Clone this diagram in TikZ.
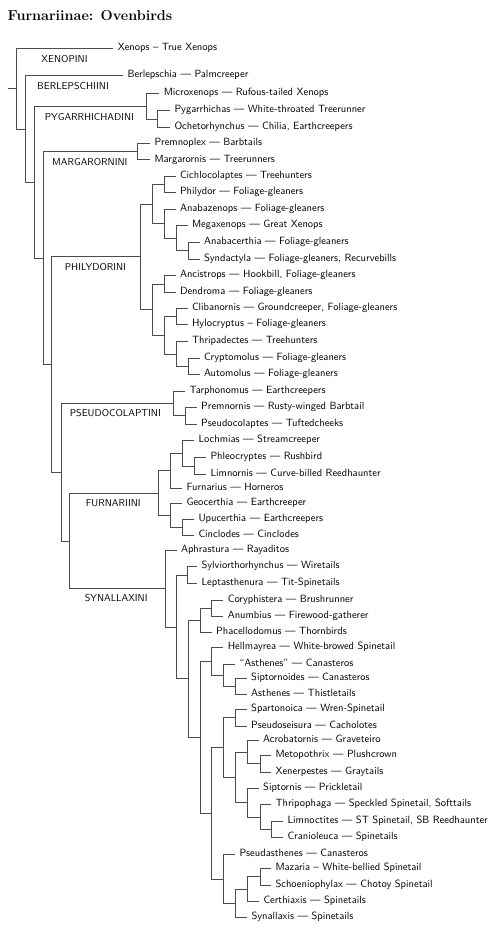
\documentclass[tikz,border=0pt]{standalone}
\begin{document}
\begin{tikzpicture}[x=1pt,y=-1pt,
  edge/.style={draw=black!70,line width=0.7pt},
  leaf/.style={anchor=west,inner xsep=4.3pt,inner ysep=0pt,text height=6.5pt,text depth=2pt,font=\sffamily\fontsize{10.5}{12}\selectfont},
  clade/.style={anchor=base west,inner sep=0pt,font=\sffamily\fontsize{10}{12}\selectfont},
  titlestyle/.style={anchor=base west,inner sep=0pt,font=\rmfamily\bfseries\Large}]
\useasboundingbox (0,0) rectangle (495,930);
\node[titlestyle] (title) at (7.5,20) {Furnariinae: Ovenbirds};
% internal nodes
\coordinate (rs) at (8,88.6);
\coordinate (root) at (16.5,88.6);
\coordinate (n2) at (25,128.9);
\coordinate (n3) at (34.3,182.1);
\coordinate (n4) at (43.3,258.0);
\coordinate (n5) at (51.7,364.5);
\coordinate (n6) at (61,472.1);
\coordinate (n7) at (69.7,540.9);
\coordinate (cPyg) at (146.7,106.2);
\coordinate (pyA) at (157.7,119);
\coordinate (cMarg) at (137.7,151.6);
\coordinate (cPhil) at (140,256.8);
\coordinate (phA) at (152.7,204.1);
\coordinate (phA1) at (164.3,184.4);
\coordinate (phA2) at (164.3,223.7);
\coordinate (phA2b) at (176,238.2);
\coordinate (phA2c) at (188,250.7);
\coordinate (phB) at (152.7,309.6);
\coordinate (phB1) at (164.3,283.9);
\coordinate (phB2) at (164.3,335.2);
\coordinate (phB2a) at (176,316.5);
\coordinate (phB2b) at (176,354.0);
\coordinate (phB2c) at (188,366.3);
\coordinate (cPseu) at (173.3,403.4);
\coordinate (psA) at (185,415.8);
\coordinate (cFurn) at (158.3,493.2);
\coordinate (fuA) at (170,470.8);
\coordinate (fuA1) at (182,453.3);
\coordinate (fuA1b) at (194,465.9);
\coordinate (fuB) at (170,515.5);
\coordinate (fuB1) at (182,527.7);
\coordinate (cSyn) at (165,588.6);
\coordinate (syA) at (176,626.9);
\coordinate (syA1) at (187.3,574.9);
\coordinate (syB) at (188,678.8);
\coordinate (syC) at (200,620.4);
\coordinate (syC1) at (211.7,608.2);
\coordinate (syD) at (200,737.2);
\coordinate (syE) at (211.7,661.3);
\coordinate (syE1) at (223.3,675.3);
\coordinate (syE2) at (235,686.5);
\coordinate (syF) at (211.7,813.1);
\coordinate (syG) at (223.3,747.4);
\coordinate (syG1) at (235,717.5);
\coordinate (syG2) at (235,777.2);
\coordinate (syG3) at (247.7,752.0);
\coordinate (syG3a) at (260,763.6);
\coordinate (syG4) at (247.7,802.5);
\coordinate (syG4a) at (260,816.9);
\coordinate (syG4b) at (271.7,829.5);
\coordinate (syH) at (223.3,878.9);
\coordinate (syH1) at (235,903.4);
\coordinate (syH2) at (247.7,889.1);
\coordinate (syH3) at (260,876.5);
% leaves
\node[leaf] (L1) at (113.3,48.3) {Xenops -- True Xenops};
\node[leaf] (L2) at (123,75.7) {Berlepschia --- Palmcreeper};
\node[leaf] (L3) at (159.3,93.3) {Microxenops --- Rufous-tailed Xenops};
\node[leaf] (L4) at (170,110.7) {Pygarrhichas --- White-throated Treerunner};
\node[leaf] (L5) at (170,127.3) {Ochetorhynchus --- Chilia, Earthcreepers};
\node[leaf] (L6) at (150,143.3) {Premnoplex --- Barbtails};
\node[leaf] (L7) at (150,159.8) {Margarornis --- Treerunners};
\node[leaf] (L8) at (175.5,176) {Cichlocolaptes --- Treehunters};
\node[leaf] (L9) at (175.5,192.7) {Philydor --- Foliage-gleaners};
\node[leaf] (L10) at (175.5,209.3) {Anabazenops --- Foliage-gleaners};
\node[leaf] (L11) at (187.5,225.7) {Megaxenops --- Great Xenops};
\node[leaf] (L12) at (199.5,242.3) {Anabacerthia --- Foliage-gleaners};
\node[leaf] (L13) at (199.5,259) {Syndactyla --- Foliage-gleaners, Recurvebills};
\node[leaf] (L14) at (175.5,275.7) {Ancistrops --- Hookbill, Foliage-gleaners};
\node[leaf] (L15) at (175.5,292) {Dendroma --- Foliage-gleaners};
\node[leaf] (L16) at (187.5,308.3) {Clibanornis --- Groundcreeper, Foliage-gleaners};
\node[leaf] (L17) at (187.5,324.7) {Hylocryptus -- Foliage-gleaners};
\node[leaf] (L18) at (187.5,341.7) {Thripadectes --- Treehunters};
\node[leaf] (L19) at (199.5,358) {Cryptomolus --- Foliage-gleaners};
\node[leaf] (L20) at (199.5,374.5) {Automolus --- Foliage-gleaners};
\node[leaf] (L21) at (185,391) {Tarphonomus --- Earthcreepers};
\node[leaf] (L22) at (196.7,407.5) {Premnornis --- Rusty-winged Barbtail};
\node[leaf] (L23) at (196.7,424) {Pseudocolaptes --- Tuftedcheeks};
\node[leaf] (L24) at (194,440.7) {Lochmias --- Streamcreeper};
\node[leaf] (L25) at (206,457.7) {Phleocryptes --- Rushbird};
\node[leaf] (L26) at (206,474) {Limnornis --- Curve-billed Reedhaunter};
\node[leaf] (L27) at (182,488.3) {Furnarius --- Horneros};
\node[leaf] (L28) at (182,503.3) {Geocerthia --- Earthcreeper};
\node[leaf] (L29) at (194,519.7) {Upucerthia --- Earthcreepers};
\node[leaf] (L30) at (194,535.7) {Cinclodes --- Cinclodes};
\node[leaf] (L31) at (176.5,550.3) {Aphrastura --- Rayaditos};
\node[leaf] (L32) at (197,566.5) {Sylviorthorhynchus --- Wiretails};
\node[leaf] (L33) at (197,583.3) {Leptasthenura --- Tit-Spinetails};
\node[leaf] (L34) at (223.3,600) {Coryphistera --- Brushrunner};
\node[leaf] (L35) at (223.3,616.3) {Anumbius --- Firewood-gatherer};
\node[leaf] (L36) at (211.7,632.7) {Phacellodomus --- Thornbirds};
\node[leaf] (L37) at (223.3,647.3) {Hellmayrea --- White-browed Spinetail};
\node[leaf] (L38) at (235,664) {``Asthenes'' --- Canasteros};
\node[leaf] (L39) at (246.7,678.3) {Siptornoides --- Canasteros};
\node[leaf] (L40) at (246.7,694.7) {Asthenes --- Thistletails};
\node[leaf] (L41) at (246.7,709) {Spartonoica --- Wren-Spinetail};
\node[leaf] (L42) at (246.7,726) {Pseudoseisura --- Cacholotes};
\node[leaf] (L43) at (258.7,740.3) {Acrobatornis --- Graveteiro};
\node[leaf] (L44) at (271,755.2) {Metopothrix --- Plushcrown};
\node[leaf] (L45) at (271,772) {Xenerpestes --- Graytails};
\node[leaf] (L46) at (258.7,788) {Siptornis --- Prickletail};
\node[leaf] (L47) at (271,804.3) {Thripophaga --- Speckled Spinetail, Softtails};
\node[leaf] (L48) at (283,821.3) {Limnoctites --- ST Spinetail, SB Reedhaunter};
\node[leaf] (L49) at (283,837.7) {Cranioleuca --- Spinetails};
\node[leaf] (L50) at (235,854.3) {Pseudasthenes --- Canasteros};
\node[leaf] (L51) at (271,868) {Mazaria -- White-bellied Spinetail};
\node[leaf] (L52) at (271,885) {Schoeniophylax --- Chotoy Spinetail};
\node[leaf] (L53) at (259,901.7) {Certhiaxis --- Spinetails};
\node[leaf] (L54) at (247,917.7) {Synallaxis --- Spinetails};
% clade labels
\node[clade] (tXen) at (41.3,62.8) {XENOPINI};
\node[clade] (tBer) at (37,89.2) {BERLEPSCHIINI};
\node[clade] (tPyg) at (44.6,120.2) {PYGARRHICHADINI};
\node[clade] (tMar) at (52,165.2) {MARGARORNINI};
\node[clade] (tPhi) at (64.6,270.8) {PHILYDORINI};
\node[clade] (tPse) at (69.6,416.8) {PSEUDOCOLAPTINI};
\node[clade] (tFur) at (85.6,506.2) {FURNARIINI};
\node[clade] (tSyn) at (84.6,601.8) {SYNALLAXINI};
% edges
\draw[edge] (rs) -- (root);
\foreach \p/\c in {root/L1,root/n2,n2/L2,n2/n3,n3/cPyg,n3/n4,n4/cMarg,n4/n5,n5/cPhil,n5/n6,n6/cPseu,n6/n7,n7/cFurn,n7/cSyn,
  cPyg/L3,cPyg/pyA,pyA/L4,pyA/L5,cMarg/L6,cMarg/L7,
  cPhil/phA,cPhil/phB,phA/phA1,phA/phA2,phA1/L8,phA1/L9,phA2/L10,phA2/phA2b,phA2b/L11,phA2b/phA2c,phA2c/L12,phA2c/L13,
  phB/phB1,phB/phB2,phB1/L14,phB1/L15,phB2/phB2a,phB2/phB2b,phB2a/L16,phB2a/L17,phB2b/L18,phB2b/phB2c,phB2c/L19,phB2c/L20,
  cPseu/L21,cPseu/psA,psA/L22,psA/L23,
  cFurn/fuA,cFurn/fuB,fuA/fuA1,fuA/L27,fuA1/L24,fuA1/fuA1b,fuA1b/L25,fuA1b/L26,fuB/L28,fuB/fuB1,fuB1/L29,fuB1/L30,
  cSyn/L31,cSyn/syA,syA/syA1,syA/syB,syA1/L32,syA1/L33,syB/syC,syB/syD,syC/syC1,syC/L36,syC1/L34,syC1/L35,
  syD/syE,syD/syF,syE/L37,syE/syE1,syE1/L38,syE1/syE2,syE2/L39,syE2/L40,
  syF/syG,syF/syH,syG/syG1,syG/syG2,syG1/L41,syG1/L42,syG2/syG3,syG2/syG4,syG3/L43,syG3/syG3a,syG3a/L44,syG3a/L45,
  syG4/L46,syG4/syG4a,syG4a/L47,syG4a/syG4b,syG4b/L48,syG4b/L49,
  syH/L50,syH/syH1,syH1/syH2,syH1/L54,syH2/syH3,syH2/L53,syH3/L51,syH3/L52}
  \draw[edge] (\p) |- (\c);
\end{tikzpicture}
\end{document}
